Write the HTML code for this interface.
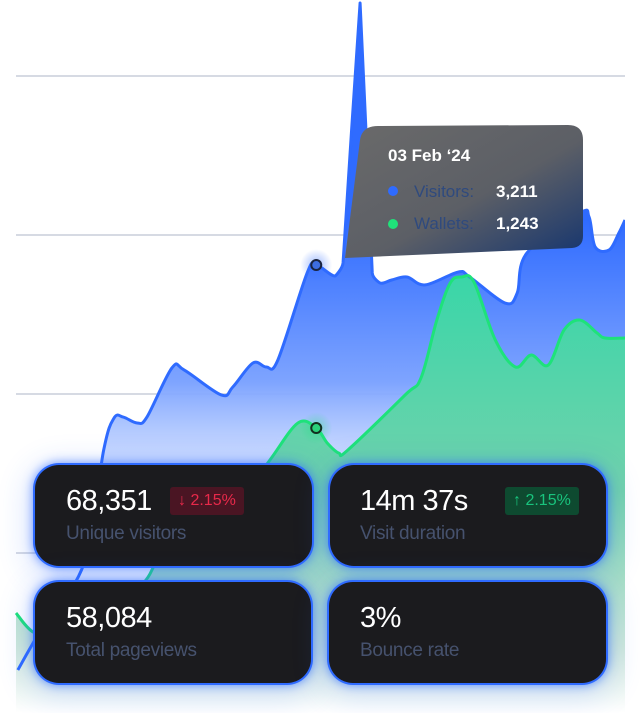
<!DOCTYPE html>
<html><head><meta charset="utf-8"><style>
html,body{margin:0;padding:0;background:#fff;width:640px;height:713px;overflow:hidden;font-family:"Liberation Sans",sans-serif;}
#wrap{position:relative;width:640px;height:713px;}
svg{position:absolute;left:0;top:0;}
.card{position:absolute;background:#1b1b1e;border-radius:24px;box-shadow:0 0 0 2px #2f6bff,0 0 10px 2px rgba(47,107,255,.7),0 6px 30px 8px rgba(47,107,255,.18);box-sizing:border-box;}
.num{position:absolute;left:31px;top:20px;color:#fff;font-size:29px;letter-spacing:-0.5px;}
.lbl{position:absolute;left:31px;top:58px;color:#46526e;font-size:19px;letter-spacing:-0.3px;}
.badge{position:absolute;top:22px;height:28px;border-radius:3px;font-size:16px;line-height:28px;padding:0 8px;}
</style></head><body>
<div id="wrap">
<svg id="chart" width="640" height="713">
<defs>
<linearGradient id="gb" gradientUnits="userSpaceOnUse" x1="0" y1="220" x2="0" y2="580">
<stop offset="0" stop-color="#2f6bff"/><stop offset="0.45" stop-color="#7ea4ff"/><stop offset="1" stop-color="#ffffff" stop-opacity="0.1"/></linearGradient>
<linearGradient id="gg" gradientUnits="userSpaceOnUse" x1="0" y1="270" x2="0" y2="713">
<stop offset="0" stop-color="#38d6a8"/><stop offset="0.5" stop-color="#72d2ac"/><stop offset="0.85" stop-color="#cfe8da"/><stop offset="1" stop-color="#ffffff"/></linearGradient>
<linearGradient id="gt" x1="0" y1="0" x2="1" y2="1">
<stop offset="0" stop-color="#6a6a6a"/><stop offset="0.55" stop-color="#5c5f66"/><stop offset="1" stop-color="#15356f"/></linearGradient>
<radialGradient id="hb"><stop offset="0" stop-color="#2f6bff" stop-opacity=".45"/><stop offset="1" stop-color="#2f6bff" stop-opacity="0"/></radialGradient>
<radialGradient id="hg"><stop offset="0" stop-color="#20e080" stop-opacity=".45"/><stop offset="1" stop-color="#20e080" stop-opacity="0"/></radialGradient>
<clipPath id="cl"><rect x="0" y="0" width="625" height="713"/></clipPath>
</defs>
<g id="grid"></g>
<g id="series" clip-path="url(#cl)"></g>
<g id="tip">
<path d="M378 126 L568 125 Q583 125 583 140 L583 236 Q583 247 572 248 L345 258 L360 140 Q362 126 378 126 Z" fill="url(#gt)"/>
<text x="388" y="161" fill="#fff" font-size="17" font-weight="bold">03 Feb ‘24</text>
<circle cx="393" cy="191" r="5" fill="#2f6bff"/>
<text x="414" y="197" fill="#2f4a7e" font-size="17">Visitors:</text>
<text x="496" y="197" fill="#fff" font-size="17" font-weight="bold">3,211</text>
<circle cx="393" cy="224" r="5" fill="#20e27a"/>
<text x="414" y="229" fill="#2f4a7e" font-size="17">Wallets:</text>
<text x="496" y="229" fill="#fff" font-size="17" font-weight="bold">1,243</text>
</g>
</svg>
<div class="card" style="left:35px;top:465px;width:277px;height:101px">
<div class="num">68,351</div>
<div class="badge" style="left:135px;background:#4a1523;color:#e8294a">↓ 2.15%</div>
<div class="lbl">Unique visitors</div></div>
<div class="card" style="left:330px;top:465px;width:276px;height:101px">
<div class="num" style="left:30px">14m 37s</div>
<div class="badge" style="left:175px;background:#0e4a30;color:#19c37d">↑ 2.15%</div>
<div class="lbl" style="left:30px">Visit duration</div></div>
<div class="card" style="left:35px;top:582px;width:276px;height:101px">
<div class="num">58,084</div>
<div class="lbl">Total pageviews</div></div>
<div class="card" style="left:329px;top:582px;width:277px;height:101px">
<div class="num" style="left:31px">3%</div>
<div class="lbl" style="left:31px">Bounce rate</div></div>
</div>
<script>
const gridValues=[0,1000,2000,3000];
const visitorDays=[0.3,4.1,11.2,14.4,16.1,17.6,19.9,21.5,25.6,27.6,33.7,35.6,38.9,41.1,43,47.8,49.3,52.4,53.7,56.5,58.5,59.8,61.7,64.2,67.2,72.6,74.5,80.3,82.3,83.9,92.6,94.1,95.1,97.4,99,100];
const visitors=[-736,-484,-63,648,849,855,818,855,1164,1151,994,1044,1195,1170,1214,1761,1811,1742,1824,3459,1761,1698,1717,1736,1686,1767,1736,1572,1635,1887,2138,2113,1925,1906,2013,2094];
const walletDays=[0,2.8,7.2,13.8,20.9,23.6,30.2,36.8,41.7,46.3,49.3,51.1,53,54.5,63.9,66.5,69.1,71.3,73.2,75.2,78.7,82,84.6,87.4,90,92.6,95.4,96.7,100];
const wallets=[-377,-497,-547,-421,-189,-44,82,333,585,818,786,692,629,648,994,1101,1465,1698,1736,1704,1340,1170,1245,1182,1403,1465,1384,1352,1352];
const markerDay=49.3;
const NS="http://www.w3.org/2000/svg";
const xS=d=>16+d*6.09, yS=v=>553-v*0.159;
function mk(tag,attrs,parent){const e=document.createElementNS(NS,tag);for(const k in attrs)e.setAttribute(k,attrs[k]);parent.appendChild(e);return e;}
function curve(xs,ys){const p=xs.map((d,i)=>[xS(d),yS(ys[i])]);let s="M"+p[0][0]+" "+p[0][1];
for(let i=0;i<p.length-1;i++){const a=p[Math.max(0,i-1)],b=p[i],c=p[i+1],d=p[Math.min(p.length-1,i+2)];
const big=Math.abs(c[1]-b[1])>200||Math.abs(b[1]-a[1])>200||Math.abs(d[1]-c[1])>200;const t=big?0.02:0.17;
s+=` C${b[0]+(c[0]-a[0])*t} ${b[1]+(c[1]-a[1])*t} ${c[0]-(d[0]-b[0])*t} ${c[1]-(d[1]-b[1])*t} ${c[0]} ${c[1]}`;}return s;}
function interp(xs,ys,d){for(let i=0;i<xs.length-1;i++)if(d>=xs[i]&&d<=xs[i+1])return ys[i]+(ys[i+1]-ys[i])*(d-xs[i])/(xs[i+1]-xs[i]);return ys[0];}
const grid=document.getElementById('grid');
gridValues.forEach(v=>{const l=mk('line',{x1:16,x2:625,y1:yS(v),y2:yS(v),stroke:'#c9ceda','stroke-width':1.5},grid);

});
const g=document.getElementById('series');
const vb=curve(visitorDays,visitors), wb=curve(walletDays,wallets);
const a1=mk('path',{d:vb+` L${xS(100)} 713 L${xS(visitorDays[0])} 713 Z`,fill:'url(#gb)'},g);


const a2=mk('path',{d:wb+` L${xS(100)} 713 L${xS(walletDays[0])} 713 Z`,fill:'url(#gg)'},g);


const l1=mk('path',{d:vb,fill:'none',stroke:'#2f6bff','stroke-width':3,'stroke-linejoin':'round'},g);


const l2=mk('path',{d:wb,fill:'none',stroke:'#1ee27a','stroke-width':3,'stroke-linejoin':'round'},g);


const mx=xS(markerDay),my1=yS(interp(visitorDays,visitors,markerDay)),my2=yS(interp(walletDays,wallets,markerDay));
mk('circle',{cx:mx,cy:my1,r:16,fill:'url(#hb)'},g);
mk('circle',{cx:mx,cy:my2,r:16,fill:'url(#hg)'},g);
const m1=mk('circle',{cx:mx,cy:my1,r:5,fill:'#3d6de0',stroke:'#1a2440','stroke-width':2},g);


const m2=mk('circle',{cx:mx,cy:my2,r:5,fill:'#2ad07a',stroke:'#12301f','stroke-width':2},g);


</script>
</body></html>
